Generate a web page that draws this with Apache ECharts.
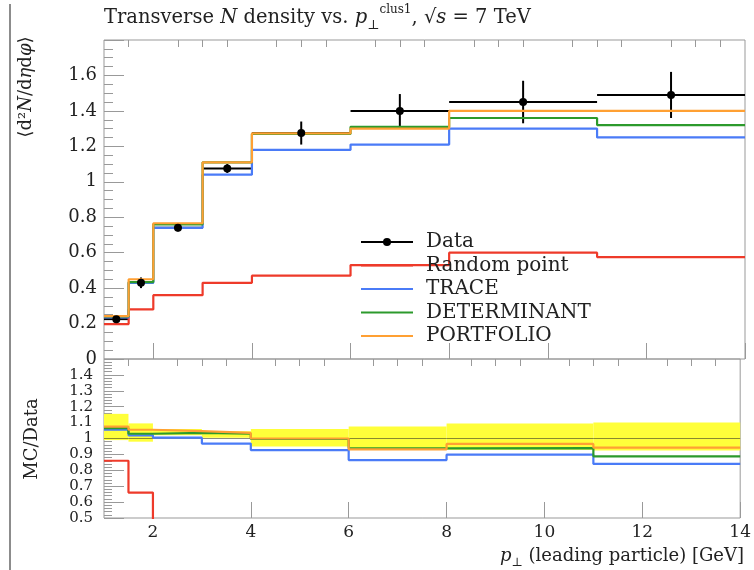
<!DOCTYPE html>
<html><head><meta charset="utf-8">
<script src="https://cdn.jsdelivr.net/npm/echarts@6/dist/echarts.min.js"></script>
<style>html,body{margin:0;padding:0;background:#fff}#c{width:754px;height:570px}</style>
</head><body><div id="c"></div>
<script>
// ---- data ----
const binEdges = [1, 1.5, 2, 3, 4, 6, 8, 11, 14];
const dataX = [1.25, 1.75, 2.5, 3.5, 5, 7, 9.5, 12.5];
const dataY = [0.225, 0.43, 0.74, 1.075, 1.275, 1.40, 1.45, 1.49];
const dataErr = [0.02, 0.03, 0.02, 0.025, 0.065, 0.095, 0.12, 0.13];
const randomPoint = [0.197, 0.28, 0.36, 0.43, 0.47, 0.53, 0.60, 0.575];
const trace = [0.235, 0.43, 0.74, 1.04, 1.18, 1.21, 1.30, 1.25];
const determinant = [0.24, 0.434, 0.76, 1.11, 1.27, 1.31, 1.36, 1.32];
const portfolio = [0.242, 0.45, 0.766, 1.11, 1.273, 1.30, 1.40, 1.40];
// ratio panel (MC/Data)
const ratioRandom = [0.86, 0.66, 0.46, 0.40, 0.37, 0.38, 0.41, 0.39];
const ratioTrace = [1.055, 1.02, 1.005, 0.968, 0.927, 0.864, 0.898, 0.84];
const ratioDeterminant = [1.065, 1.03, 1.035, 1.03, 0.997, 0.938, 0.94, 0.888];
const ratioPortfolio = [1.075, 1.055, 1.046, 1.035, 1.0, 0.932, 0.966, 0.942];
const ratioData = [1, 1, 1, 1, 1, 1, 1, 1];
const bandLow = [0.99, 0.98, 1.02, 1.005, 0.95, 0.93, 0.93, 0.925];
const bandHigh = [1.155, 1.095, 1.06, 1.045, 1.06, 1.075, 1.095, 1.10];
// ticks
const xMajorTicks = [2, 4, 6, 8, 10, 12, 14];
const xMinorTicks = [1.5, 2.5, 3, 3.5, 4.5, 5, 5.5, 6.5, 7, 7.5, 8.5, 9, 9.5, 10.5, 11, 11.5, 12.5, 13, 13.5];
const legendNames = ['Data', 'Random point', 'TRACE', 'DETERMINANT', 'PORTFOLIO'];

const C = { red: '#ee3a2a', blue: '#4a7bf7', green: '#2c9a2c', orange: '#ffa033', band: '#ffff3a', axis: '#999', text: '#222' };
const FONT = 'DejaVu Serif';

function steps(vals) {
  const pts = vals.map((v, i) => [binEdges[i], v]);
  pts.push([binEdges[binEdges.length - 1], vals[vals.length - 1]]);
  return pts;
}
const dataPts = [];
dataX.forEach((x, i) => { dataPts.push([x, dataY[i]]); if (i < dataX.length - 1) dataPts.push([x, '-']); });
const errRows = dataX.map((x, i) => [x, dataY[i], dataErr[i], binEdges[i], binEdges[i + 1]]);
const bandRows = bandLow.map((l, i) => [binEdges[i], binEdges[i + 1], l, bandHigh[i]]);

function xAx(grid, ticks, len, labels) {
  return {
    type: 'value', gridIndex: grid, min: 1, max: 14,
    axisLine: { show: false }, splitLine: { show: false },
    axisTick: { show: true, inside: true, length: len, customValues: ticks, lineStyle: { color: C.axis, width: 1 } },
    axisLabel: labels ? { show: true, customValues: ticks, fontSize: 17, fontFamily: FONT, color: C.text, margin: 6 } : { show: false }
  };
}
function stepLine(name, vals, color, xi, yi, extra) {
  return Object.assign({
    name, type: 'line', step: 'end', xAxisIndex: xi, yAxisIndex: yi, data: steps(vals),
    symbol: 'none', lineStyle: { color, width: 2.2 }, itemStyle: { color }, clip: true
  }, extra || {});
}

const option = {
  animation: false,
  title: {
    left: 104, top: 4, padding: 0,
    text: '{a|Transverse }{n|N}{a| density vs. }{n|p}{sub|⊥}{sup|clus1}{a|, √}{n|s}{a| = 7 TeV}',
    textStyle: {
      fontWeight: 'normal',
      rich: {
        a: { fontSize: 19.5, fontFamily: FONT, fontWeight: 'normal', color: C.text, lineHeight: 28 },
        n: { fontSize: 19.5, fontFamily: FONT, fontWeight: 'normal', fontStyle: 'italic', color: C.text, lineHeight: 28 },
        sup: { fontSize: 12, fontFamily: FONT, fontWeight: 'normal', color: C.text, lineHeight: 14, verticalAlign: 'top' },
        sub: { fontSize: 13, fontFamily: FONT, fontWeight: 'normal', color: C.text, lineHeight: 14, verticalAlign: 'bottom' }
      }
    }
  },
  legend: {
    data: legendNames.map((n, i) => i === 0 ? { name: n } : { name: n, itemStyle: { opacity: 0 } }),
    orient: 'vertical', left: 360, top: 232, padding: 0,
    itemWidth: 52, itemHeight: 10, itemGap: 3.5, selectedMode: false,
    textStyle: { fontSize: 20, fontFamily: FONT, color: C.text, lineHeight: 20, padding: [0, 0, 0, 8] }
  },
  grid: [
    { left: 104, top: 40, width: 641, height: 319, show: true, borderColor: C.axis, borderWidth: 1, backgroundColor: 'transparent' },
    { left: 104, top: 359, width: 641, height: 159, show: true, borderColor: C.axis, borderWidth: 1, backgroundColor: 'transparent' }
  ],
  xAxis: [
    xAx(0, xMajorTicks, 16, false),
    xAx(0, xMinorTicks, 7, false),
    xAx(1, xMajorTicks, 16, true),
    xAx(1, xMinorTicks, 7, false)
  ],
  yAxis: [
    {
      type: 'value', gridIndex: 0, min: 0, max: 1.8, interval: 0.2,
      axisLine: { show: false }, splitLine: { show: false },
      axisTick: { inside: true, length: 20, lineStyle: { color: C.axis } },
      minorTick: { show: true, splitNumber: 4, length: 9, lineStyle: { color: C.axis } },
      axisLabel: { fontSize: 18, fontFamily: FONT, color: C.text, margin: 7, showMaxLabel: false }
    },
    {
      type: 'value', gridIndex: 1, min: 0.5, max: 1.5, interval: 0.1,
      axisLine: { show: false }, splitLine: { show: false },
      axisTick: { inside: true, length: 20, lineStyle: { color: C.axis } },
      minorTick: { show: true, splitNumber: 5, length: 8, lineStyle: { color: C.axis } },
      axisLabel: { fontSize: 15, fontFamily: FONT, color: C.text, margin: 11, showMaxLabel: false }
    }
  ],
  graphic: [
    { type: 'line', shape: { x1: 10, y1: 4, x2: 10, y2: 570 }, style: { stroke: '#666', lineWidth: 1.5 } },
    {
      type: 'text', x: 26, y: 87, rotation: Math.PI / 2,
      style: {
        text: '{a|⟨d²}{n|N}{a|/d}{n|η}{a|d}{n|φ}{a|⟩}', align: 'center', verticalAlign: 'middle',
        rich: {
          a: { fontSize: 18, fontFamily: FONT, fill: C.text },
          n: { fontSize: 18, fontFamily: FONT, fontStyle: 'italic', fill: C.text }
        }
      }
    },
    {
      type: 'text', x: 32, y: 439, rotation: Math.PI / 2,
      style: { text: 'MC/Data', align: 'center', verticalAlign: 'middle', fontSize: 18, fontFamily: FONT, fill: C.text }
    },
    {
      type: 'text', x: 744, y: 556,
      style: {
        text: '{n|p}{sub|⊥}{a| (leading particle) [GeV]}', align: 'right', verticalAlign: 'middle',
        rich: {
          a: { fontSize: 18, fontFamily: FONT, fill: C.text, lineHeight: 26 },
          n: { fontSize: 18, fontFamily: FONT, fontStyle: 'italic', fill: C.text, lineHeight: 26 },
          sub: { fontSize: 12, fontFamily: FONT, fill: C.text, lineHeight: 14, verticalAlign: 'bottom' }
        }
      }
    }
  ],
  series: [
    // Data error bars (main)
    {
      type: 'custom', xAxisIndex: 0, yAxisIndex: 0, data: errRows, silent: true,
      renderItem: function (params, api) {
        const x = api.value(0), y = api.value(1), e = api.value(2), lo = api.value(3), hi = api.value(4);
        const h1 = api.coord([lo, y]), h2 = api.coord([hi, y]);
        const v1 = api.coord([x, y - e]), v2 = api.coord([x, y + e]);
        const st = { stroke: '#000', lineWidth: 2 };
        return { type: 'group', children: [
          { type: 'line', shape: { x1: h1[0], y1: h1[1], x2: h2[0], y2: h2[1] }, style: st },
          { type: 'line', shape: { x1: v1[0], y1: v1[1], x2: v2[0], y2: v2[1] }, style: st }
        ] };
      }
    },
    stepLine('Random point', randomPoint, C.red, 0, 0),
    stepLine('TRACE', trace, C.blue, 0, 0),
    stepLine('DETERMINANT', determinant, C.green, 0, 0),
    stepLine('PORTFOLIO', portfolio, C.orange, 0, 0),
    {
      name: 'Data', type: 'line', xAxisIndex: 0, yAxisIndex: 0, data: dataPts, connectNulls: false,
      symbol: 'circle', symbolSize: 8, showSymbol: true,
      lineStyle: { color: '#000', width: 2 }, itemStyle: { color: '#000' }
    },
    // ratio panel
    {
      type: 'custom', xAxisIndex: 2, yAxisIndex: 1, data: bandRows, silent: true, clip: true,
      renderItem: function (params, api) {
        const p1 = api.coord([api.value(0), api.value(3)]);
        const p2 = api.coord([api.value(1), api.value(2)]);
        return { type: 'rect', shape: { x: p1[0], y: p1[1], width: p2[0] - p1[0], height: p2[1] - p1[1] }, style: { fill: C.band } };
      }
    },
    stepLine('', ratioData, 'rgba(60,60,40,0.6)', 2, 1, { lineStyle: { color: 'rgba(60,60,40,0.6)', width: 1 } }),
    stepLine('Random point', ratioRandom, C.red, 2, 1),
    stepLine('TRACE', ratioTrace, C.blue, 2, 1),
    stepLine('DETERMINANT', ratioDeterminant, C.green, 2, 1),
    stepLine('PORTFOLIO', ratioPortfolio, C.orange, 2, 1)
  ]
};
const chart = echarts.init(document.getElementById('c'), null, { renderer: 'canvas' });
chart.setOption(option);
</script>
</body></html>
